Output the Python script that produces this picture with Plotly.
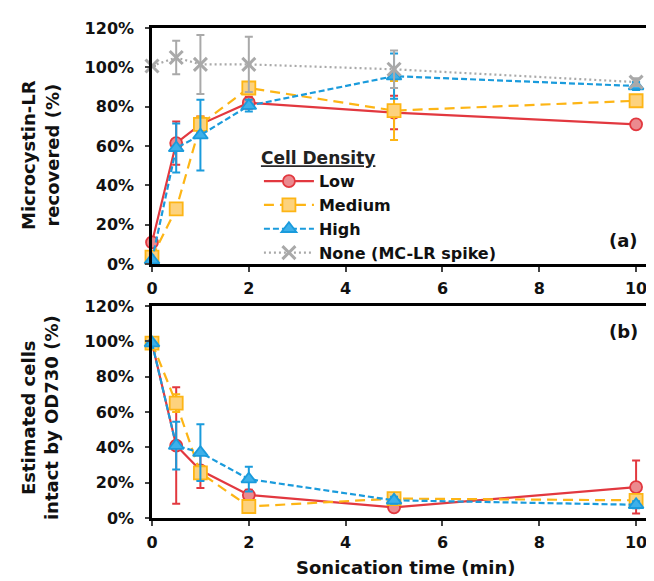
import plotly.graph_objects as go

# ---------------- data ----------------
time_min = [0, 0.5, 1, 2, 5, 10]

# Panel (a): Microcystin-LR recovered (%)
a_low = [11, 61.5, 71, 82, 77, 71]
a_low_err = [0, 11, 4, 3, 8.5, 2]
a_medium = [3.5, 28, 71, 89.5, 78, 83]
a_medium_err = [0, 3, 4, 3, 15, 2]
a_high = [2, 59, 65.5, 80.5, 95.5, 90.5]
a_high_err = [0, 12.5, 18, 3, 11.5, 2]
a_none = [100.7, 105, 101.5, 101.5, 99, 92.5]
a_none_err = [0, 8.5, 15, 14, 9.5, 2]

# Panel (b): Estimated cells intact by OD730 (%)
b_low = [99, 41, 27, 13, 6, 17.5]
b_low_err = [0, 33, 10, 3, 2, 15]
b_medium = [99, 65, 25.5, 6.5, 11, 10]
b_medium_err = [0, 5, 4, 2, 2, 2]
b_high = [99, 41, 37, 22, 10, 7.5]
b_high_err = [0, 13.5, 16, 7, 2, 2]

series_names = ["Low", "Medium", "High", "None (MC-LR spike)"]
y_ticks = [0, 20, 40, 60, 80, 100, 120]
y_tick_labels = ["0%", "20%", "40%", "60%", "80%", "100%", "120%"]
x_ticks = [0, 2, 4, 6, 8, 10]
x_tick_labels = ["0", "2", "4", "6", "8", "10"]

# ---------------- styles ----------------
FONT = "DejaVu Sans, Liberation Sans, Arial, sans-serif"
RED, RED_FILL = "#E2383F", "#EB8A8F"
ORG, ORG_FILL = "#FDB515", "#FDD27D"
BLU, BLU_FILL = "#1A9BDC", "#3DB0EA"
GRY = "#A9A9A9"

styles = {
    "Low": dict(color=RED, fill=RED_FILL, dash="solid", symbol="circle", size=12),
    "Medium": dict(color=ORG, fill=ORG_FILL, dash="10px,6px", symbol="square", size=13),
    "High": dict(color=BLU, fill=BLU_FILL, dash="6px,3px", symbol="triangle-up", size=13),
    "None (MC-LR spike)": dict(color=GRY, fill=GRY, dash="2px,3px", symbol="x-thin", size=13),
}

fig = go.Figure()


def add_series(name, y, err, xa, ya, showlegend):
    s = styles[name]
    if s["symbol"] == "x-thin":
        marker = dict(symbol="x-thin", size=s["size"], color=s["color"],
                      line=dict(color=s["color"], width=3))
    else:
        marker = dict(symbol=s["symbol"], size=s["size"], color=s["fill"],
                      line=dict(color=s["color"], width=1.8))
    fig.add_trace(go.Scatter(
        x=time_min, y=y, name=name, mode="lines+markers",
        line=dict(color=s["color"], width=2.2, dash=s["dash"]),
        marker=marker,
        error_y=dict(type="data", array=err, visible=True, color=s["color"],
                     thickness=2, width=4),
        xaxis=xa, yaxis=ya, showlegend=showlegend, cliponaxis=False,
    ))


add_series("Low", a_low, a_low_err, "x", "y", True)
add_series("Medium", a_medium, a_medium_err, "x", "y", True)
add_series("High", a_high, a_high_err, "x", "y", True)
add_series("None (MC-LR spike)", a_none, a_none_err, "x", "y", True)

add_series("Low", b_low, b_low_err, "x2", "y2", False)
add_series("Medium", b_medium, b_medium_err, "x2", "y2", False)
add_series("High", b_high, b_high_err, "x2", "y2", False)

axis_font = dict(family=FONT, size=16, color="#111", weight="bold")
xcommon = dict(range=[0, 10.37], tickmode="array", tickvals=x_ticks,
               ticktext=x_tick_labels, ticks="outside", ticklen=5,
               tickwidth=2, showline=True, linecolor="black", linewidth=2.5,
               mirror=True, showgrid=False, zeroline=False, tickfont=axis_font,
               ticklabelstandoff=3)
ycommon = dict(range=[0, 120], tickmode="array", tickvals=y_ticks,
               ticktext=y_tick_labels, ticks="outside",
               ticklen=4, tickwidth=2, showline=True, linecolor="black",
               linewidth=2.5, showgrid=False, zeroline=False, tickfont=axis_font,
               ticklabelstandoff=8)

title_font = dict(family=FONT, size=18, color="#111", weight="bold")

# The page body adds an 8px offset, so the figure is 8px smaller than the window.
fig.update_layout(
    width=646, height=573,
    margin=dict(l=144, r=0, t=20, b=63),
    paper_bgcolor="white", plot_bgcolor="white",
    font=dict(family=FONT, color="black"),
    xaxis=dict(domain=[0, 1], anchor="y", **xcommon),
    yaxis=dict(domain=[0.5184, 1], anchor="x", **ycommon),
    xaxis2=dict(domain=[0, 1], anchor="y2", **xcommon),
    yaxis2=dict(domain=[0, 0.4327], anchor="x2", **ycommon),
    legend=dict(
        x=0.213, y=0.767, xanchor="left", yanchor="top",
        bgcolor="rgba(0,0,0,0)",
        font=dict(family=FONT, size=16, color="#111", weight="bold"),
        title=dict(text="<u>Cell Density</u>",
                   font=dict(family=FONT, size=17, color="#222", weight="bold")),
        tracegroupgap=0, itemwidth=50,
    ),
    showlegend=True,
    annotations=[
        dict(text="Microcystin-LR<br>recovered (%)", xref="paper", yref="paper",
             x=-0.223, y=0.741, xanchor="center", yanchor="middle",
             textangle=-90, showarrow=False, font=title_font),
        dict(text="Estimated cells<br>intact by OD730 (%)", xref="paper", yref="paper",
             x=-0.223, y=0.204, xanchor="center", yanchor="middle",
             textangle=-90, showarrow=False, font=title_font),
        dict(text="Sonication time (min)", xref="paper", yref="paper",
             x=0.506, y=-0.102, xanchor="center", yanchor="middle",
             showarrow=False, font=title_font),
        dict(text="(a)", xref="paper", yref="paper", x=0.940, y=0.567,
             xanchor="center", yanchor="middle", showarrow=False,
             font=dict(family=FONT, size=18, color="#111", weight="bold")),
        dict(text="(b)", xref="paper", yref="paper", x=0.940, y=0.380,
             xanchor="center", yanchor="middle", showarrow=False,
             font=dict(family=FONT, size=18, color="#111", weight="bold")),
    ],
)

fig.write_html("out.html")
